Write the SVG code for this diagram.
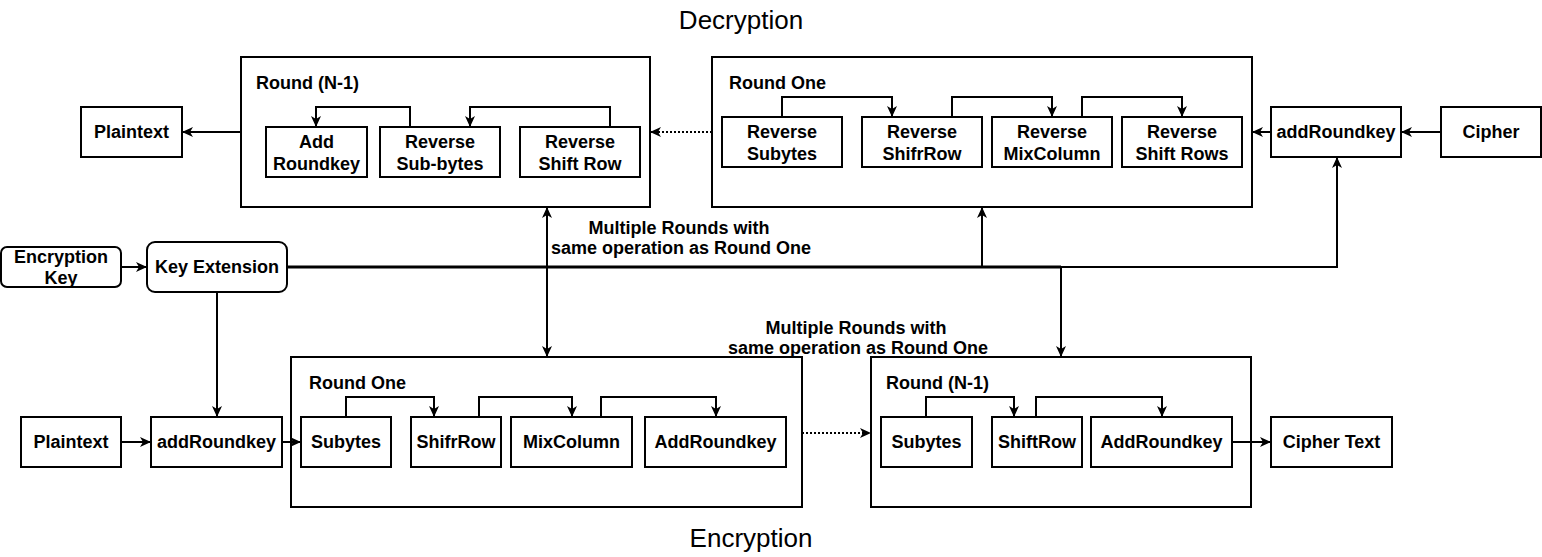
<svg xmlns="http://www.w3.org/2000/svg" width="1542" height="557" viewBox="0 0 1542 557">
<style>
.b{fill:#fff;stroke:#000;stroke-width:2}
.t{font-family:"Liberation Sans",Arial,sans-serif;font-weight:bold;font-size:18px;fill:#000;text-anchor:middle}
.l{font-family:"Liberation Sans",Arial,sans-serif;font-weight:bold;font-size:18px;fill:#000}
.h{font-family:"Liberation Sans",Arial,sans-serif;font-size:26px;fill:#000;text-anchor:middle}
.c{fill:none;stroke:#000;stroke-width:2}
.d{fill:none;stroke:#000;stroke-width:2;stroke-dasharray:2 2}
</style>
<defs>
<marker id="a" markerUnits="userSpaceOnUse" markerWidth="12" markerHeight="10" refX="11" refY="5" orient="auto-start-reverse"><path d="M0,0 L11,5 L0,10 L3,5 z" fill="#000"/></marker>
</defs>
<rect width="1542" height="557" fill="#fff"/>
<text class="h" x="741" y="29">Decryption</text>
<text class="h" x="751" y="547">Encryption</text>

<g id="dec-plaintext"><rect class="b" x="81" y="107" width="101" height="50"/><text class="t" x="131.5" y="138">Plaintext</text></g>
<g id="dec-roundN1"><rect class="b" x="241" y="57" width="409" height="150"/><text class="l" x="256" y="89">Round (N-1)</text></g>
<g id="dec-addroundkey"><rect class="b" x="266" y="127" width="101" height="50"/><text class="t" x="316.5" y="148">Add</text><text class="t" x="316.5" y="170">Roundkey</text></g>
<g id="dec-revsubbytes"><rect class="b" x="380" y="127" width="120" height="50"/><text class="t" x="440" y="148">Reverse</text><text class="t" x="440" y="170">Sub-bytes</text></g>
<g id="dec-revshiftrow"><rect class="b" x="520" y="127" width="120" height="50"/><text class="t" x="580" y="148">Reverse</text><text class="t" x="580" y="170">Shift Row</text></g>

<g id="dec-roundone"><rect class="b" x="712" y="57" width="540" height="150"/><text class="l" x="729" y="89">Round One</text></g>
<g id="dec-revsubytes"><rect class="b" x="722" y="117" width="120" height="50"/><text class="t" x="782" y="138">Reverse</text><text class="t" x="782" y="160">Subytes</text></g>
<g id="dec-revshifrrow"><rect class="b" x="862" y="117" width="120" height="50"/><text class="t" x="922" y="138">Reverse</text><text class="t" x="922" y="160">ShifrRow</text></g>
<g id="dec-revmixcolumn"><rect class="b" x="992" y="117" width="120" height="50"/><text class="t" x="1052" y="138">Reverse</text><text class="t" x="1052" y="160">MixColumn</text></g>
<g id="dec-revshiftrows"><rect class="b" x="1122" y="117" width="120" height="50"/><text class="t" x="1182" y="138">Reverse</text><text class="t" x="1182" y="160">Shift Rows</text></g>
<g id="dec-addroundkey2"><rect class="b" x="1271" y="107" width="130" height="50"/><text class="t" x="1336" y="138">addRoundkey</text></g>
<g id="dec-cipher"><rect class="b" x="1441" y="107" width="100" height="50"/><text class="t" x="1491" y="138">Cipher</text></g>

<g id="enc-key"><rect class="b" x="1" y="247" width="120" height="40" rx="6"/><text class="t" x="61" y="263">Encryption</text><text class="t" x="61" y="284">Key</text></g>
<g id="key-extension"><rect class="b" x="147" y="242" width="140" height="50" rx="8"/><text class="t" x="217" y="273">Key Extension</text></g>

<g id="enc-plaintext"><rect class="b" x="21" y="417" width="100" height="50"/><text class="t" x="71" y="448">Plaintext</text></g>
<g id="enc-addroundkey"><rect class="b" x="151" y="417" width="131" height="50"/><text class="t" x="216.5" y="448">addRoundkey</text></g>
<g id="enc-roundone"><rect class="b" x="291" y="357" width="511" height="150"/><text class="l" x="309" y="389">Round One</text></g>
<g id="enc-subytes"><rect class="b" x="301" y="417" width="90" height="50"/><text class="t" x="346" y="448">Subytes</text></g>
<g id="enc-shifrrow"><rect class="b" x="411" y="417" width="90" height="50"/><text class="t" x="456" y="448">ShifrRow</text></g>
<g id="enc-mixcolumn"><rect class="b" x="511" y="417" width="121" height="50"/><text class="t" x="571.5" y="448">MixColumn</text></g>
<g id="enc-addroundkey2"><rect class="b" x="645" y="417" width="141" height="50"/><text class="t" x="715.5" y="448">AddRoundkey</text></g>
<g id="enc-roundN1"><rect class="b" x="871" y="357" width="380" height="150"/><text class="l" x="886" y="389">Round (N-1)</text></g>
<g id="enc-subytes2"><rect class="b" x="881" y="417" width="91" height="50"/><text class="t" x="926.5" y="448">Subytes</text></g>
<g id="enc-shiftrow"><rect class="b" x="992" y="417" width="90" height="50"/><text class="t" x="1037" y="448">ShiftRow</text></g>
<g id="enc-addroundkey3"><rect class="b" x="1091" y="417" width="141" height="50"/><text class="t" x="1161.5" y="448">AddRoundkey</text></g>
<g id="enc-ciphertext"><rect class="b" x="1271" y="417" width="121" height="50"/><text class="t" x="1331.5" y="448">Cipher Text</text></g>

<g id="labels">
<text class="t" x="679" y="234">Multiple Rounds with</text>
<text class="t" x="681" y="254">same operation as Round One</text>
<text class="t" x="856" y="334">Multiple Rounds with</text>
<text class="t" x="858" y="354">same operation as Round One</text>
</g>

<g id="connectors">
<path class="c" d="M241,132 H182" marker-end="url(#a)"/>
<path class="c" d="M410,127 V107 H316 V127" marker-end="url(#a)"/>
<path class="c" d="M610,127 V107 H470 V127" marker-end="url(#a)"/>
<path class="d" d="M712,132 H650" marker-end="url(#a)"/>
<path class="c" d="M782,117 V97 H892 V117" marker-end="url(#a)"/>
<path class="c" d="M952,117 V97 H1052 V117" marker-end="url(#a)"/>
<path class="c" d="M1082,117 V97 H1182 V117" marker-end="url(#a)"/>
<path class="c" d="M1271,132 H1252" marker-end="url(#a)"/>
<path class="c" d="M1441,132 H1401" marker-end="url(#a)"/>
<path class="c" d="M121,267 H147" marker-end="url(#a)"/>
<path fill="none" stroke="#000" stroke-width="3" d="M287,267 H1061"/>
<path class="c" d="M1061,267 H1337 V157" marker-end="url(#a)"/>
<path class="c" d="M982,267 V207" marker-end="url(#a)"/>
<path class="c" d="M1061,267 V357" marker-end="url(#a)"/>
<path class="c" d="M547,207 V357" marker-start="url(#a)" marker-end="url(#a)"/>
<path class="c" d="M217,292 V417" marker-end="url(#a)"/>
<path class="c" d="M121,442 H151" marker-end="url(#a)"/>
<path class="c" d="M282,442 H301" marker-end="url(#a)"/>
<path class="c" d="M346,417 V397 H434 V417" marker-end="url(#a)"/>
<path class="c" d="M479,417 V397 H572 V417" marker-end="url(#a)"/>
<path class="c" d="M601,417 V397 H716 V417" marker-end="url(#a)"/>
<path class="d" d="M802,433 H871" marker-end="url(#a)"/>
<path class="c" d="M926,417 V397 H1014 V417" marker-end="url(#a)"/>
<path class="c" d="M1036,417 V397 H1162 V417" marker-end="url(#a)"/>
<path class="c" d="M1232,442 H1271" marker-end="url(#a)"/>
</g>
</svg>
